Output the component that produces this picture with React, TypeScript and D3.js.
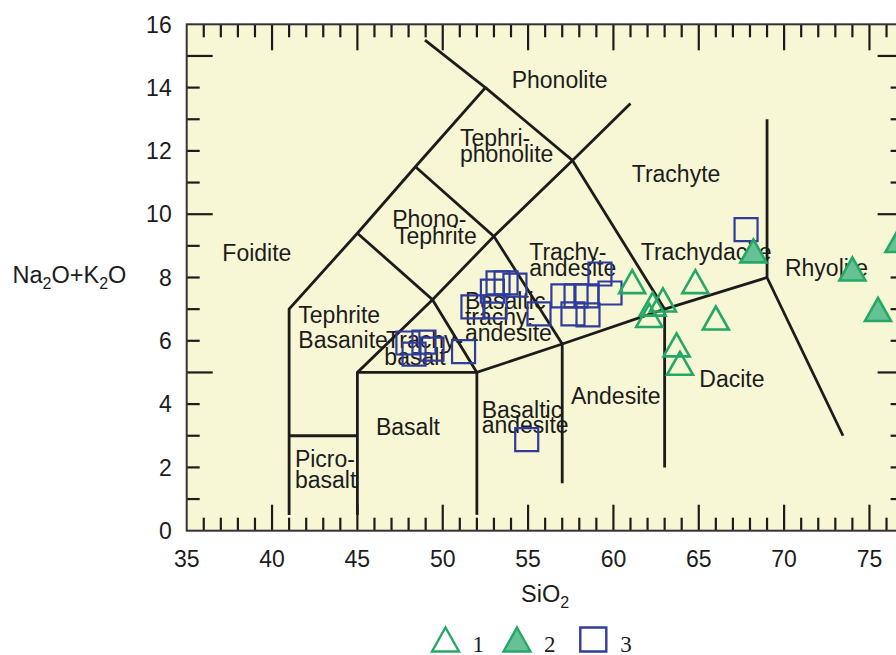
import React, { useRef, useEffect } from "react";
import * as d3 from "d3";

// series 1: open triangles
const s1Si = [61.1, 64.8, 66.0, 62.3, 62.9, 62.1, 63.7, 63.9];
const s1Alk = [7.87, 7.87, 6.72, 7.16, 7.29, 6.8, 5.87, 5.29];
// series 2: filled triangles
const s2Si = [68.2, 74.0, 75.5, 76.7];
const s2Alk = [8.84, 8.27, 6.99, 9.17];
// series 3: squares
const s3Si = [47.96, 48.9, 48.32, 49.37, 51.22, 51.77, 53.06, 52.91, 53.24, 53.71, 54.23, 57.04, 57.81, 58.45, 59.21, 59.8, 55.64, 57.63, 58.51, 54.92, 67.77];
const s3Alk = [5.93, 5.96, 5.58, 5.74, 5.66, 7.07, 7.07, 7.57, 7.83, 7.83, 7.76, 7.42, 7.42, 7.42, 8.11, 7.51, 6.85, 6.85, 6.82, 2.88, 9.51];

const yTickLabels = [0, 2, 4, 6, 8, 10, 12, 14, 16];
const xTickLabels = [35, 40, 45, 50, 55, 60, 65, 70, 75];
const legendLabels = ["1", "2", "3"];

// TAS field boundaries (SiO2, Na2O+K2O)
const boundaries: number[][][] = [
  [[41, 0.5], [41, 7], [45, 9.4], [48.4, 11.5], [52.5, 14], [48.96, 15.5]],
  [[41, 3], [45, 3]],
  [[45, 0.5], [45, 5], [49.4, 7.3], [53, 9.3], [57.6, 11.7], [61, 13.5]],
  [[45, 5], [52, 5], [57, 5.9], [63, 7], [69, 8]],
  [[52, 0.5], [52, 5]],
  [[45, 9.4], [49.4, 7.3], [52, 5]],
  [[48.4, 11.5], [53, 9.3], [57, 5.9], [57, 1.5]],
  [[52.5, 14], [57.6, 11.7], [63, 7], [63, 2]],
  [[69, 13], [69, 8], [73.45, 3]],
];

const fieldNames = ["Phonolite", "Tephri-", "phonolite", "Trachyte", "Phono-", "Tephrite", "Foidite", "Tephrite", "Basanite", "Trachy-", "basalt", "Basaltic", "trachy-", "andesite", "Trachy-", "andesite", "Trachydacite", "Rhyolite", "Dacite", "Andesite", "Basaltic", "andesite", "Basalt", "Picro-", "basalt"];
const fieldSi = [54.04, 51.01, 51.01, 61.07, 47.04, 47.2, 37.09, 41.54, 41.54, 46.68, 46.58, 51.3, 51.3, 51.3, 55.07, 55.07, 61.6, 70.05, 65.03, 57.51, 52.28, 52.28, 46.09, 41.34, 41.34];
const fieldAlk = [14.0, 12.17, 11.66, 11.03, 9.6, 9.06, 8.53, 6.55, 5.78, 5.77, 5.24, 7.0, 6.5, 5.99, 8.55, 8.05, 8.55, 8.05, 4.55, 4.0, 3.56, 3.08, 3.02, 2.0, 1.34];

const green = "#24A865";
const greenFill = "#66C194";
const blue = "#2F3C9C";
const ink = "#1c1c1c";
const font = "'Liberation Sans', Arial, sans-serif";

const App = () => {
  const svgRef = useRef<SVGSVGElement>(null);

  useEffect(() => {
    const svg = d3.select(svgRef.current);
    svg.selectAll("*").remove();

    const left = 186.7, right = 903.6, top = 24.3, bottom = 530.7;
    const x = d3.scaleLinear().domain([35, 77]).range([left, right]);
    const y = d3.scaleLinear().domain([0, 16]).range([bottom, top]);

    // plot background
    svg.append("rect")
      .attr("x", left).attr("y", top)
      .attr("width", right - left).attr("height", bottom - top)
      .attr("fill", "#F7F7D6");

    // ticks on all four sides, pointing inward
    const xs = d3.range(36, 77);
    const ys = d3.range(1, 16);
    const ticks = svg.append("g").attr("stroke", ink).attr("stroke-width", 2.2);
    xs.forEach((v) => {
      const len = v % 5 === 0 ? 26 : 13;
      ticks.append("line").attr("x1", x(v)).attr("x2", x(v)).attr("y1", bottom).attr("y2", bottom - len);
      ticks.append("line").attr("x1", x(v)).attr("x2", x(v)).attr("y1", top).attr("y2", top + len);
    });
    ys.forEach((v) => {
      const len = v % 5 === 0 ? 26 : 13;
      ticks.append("line").attr("x1", left).attr("x2", left + len).attr("y1", y(v)).attr("y2", y(v));
      ticks.append("line").attr("x1", right).attr("x2", right - len).attr("y1", y(v)).attr("y2", y(v));
    });

    // frame
    svg.append("rect")
      .attr("x", left).attr("y", top)
      .attr("width", right - left).attr("height", bottom - top)
      .attr("fill", "none").attr("stroke", "#333").attr("stroke-width", 2);

    // tick labels
    svg.append("g").selectAll("text").data(yTickLabels).join("text")
      .attr("x", left - 15).attr("y", (d) => y(d)).attr("dy", "0.36em")
      .attr("text-anchor", "end").attr("font-family", font).attr("font-size", 23)
      .attr("fill", ink).text((d) => d);
    svg.append("g").selectAll("text").data(xTickLabels).join("text")
      .attr("x", (d) => x(d)).attr("y", bottom + 36.5)
      .attr("text-anchor", "middle").attr("font-family", font).attr("font-size", 23)
      .attr("fill", ink).text((d) => d);

    // axis titles
    const xt = svg.append("text").attr("x", x(56)).attr("y", 601.7)
      .attr("text-anchor", "middle").attr("font-family", font).attr("font-size", 23.5).attr("fill", ink);
    xt.append("tspan").text("SiO");
    xt.append("tspan").attr("font-size", 16).attr("dy", 6).text("2");

    const yt = svg.append("text").attr("x", 12.5).attr("y", 283.3)
      .attr("font-family", font).attr("font-size", 23.5).attr("fill", ink);
    yt.append("tspan").text("Na");
    yt.append("tspan").attr("font-size", 16).attr("dy", 6).text("2");
    yt.append("tspan").attr("dy", -6).text("O+K");
    yt.append("tspan").attr("font-size", 16).attr("dy", 6).text("2");
    yt.append("tspan").attr("dy", -6).text("O");

    // field boundaries
    const line = d3.line<number[]>().x((d) => x(d[0])).y((d) => y(d[1]));
    svg.append("g").selectAll("path").data(boundaries).join("path")
      .attr("d", line).attr("fill", "none").attr("stroke", ink)
      .attr("stroke-width", 2.8).attr("stroke-linejoin", "miter");

    // field names
    svg.append("g").selectAll("text").data(fieldNames).join("text")
      .attr("x", (_, i) => x(fieldSi[i])).attr("y", (_, i) => y(fieldAlk[i]))
      .attr("font-family", font).attr("font-size", 23).attr("fill", ink)
      .text((d) => d);

    const tri = "M0,-11.5L13,11.5L-13,11.5Z";
    const sq = "M-11.5,-11.5H11.5V11.5H-11.5Z";

    svg.append("g").selectAll("path").data(s3Si).join("path")
      .attr("transform", (d, i) => `translate(${x(d)},${y(s3Alk[i])})`)
      .attr("d", sq).attr("fill", "none").attr("stroke", blue).attr("stroke-width", 2.2);

    svg.append("g").selectAll("path").data(s1Si).join("path")
      .attr("transform", (d, i) => `translate(${x(d)},${y(s1Alk[i])})`)
      .attr("d", tri).attr("fill", "none").attr("stroke", green).attr("stroke-width", 2.6);

    svg.append("g").selectAll("path").data(s2Si).join("path")
      .attr("transform", (d, i) => `translate(${x(d)},${y(s2Alk[i])})`)
      .attr("d", tri).attr("fill", greenFill).attr("stroke", green).attr("stroke-width", 2.6);

    // legend
    const lg = svg.append("g").attr("transform", "translate(0,639.5)");
    const markers = [
      { d: "M0,-12L13.5,12L-13.5,12Z", fill: "none", stroke: green },
      { d: "M0,-12L13.5,12L-13.5,12Z", fill: greenFill, stroke: green },
      { d: "M-13,-12H13V12H-13Z", fill: "none", stroke: blue },
    ];
    const lx = [445.5, 517, 593.3];
    legendLabels.forEach((t, i) => {
      lg.append("path").attr("transform", `translate(${lx[i]},0)`)
        .attr("d", markers[i].d).attr("fill", markers[i].fill)
        .attr("stroke", markers[i].stroke).attr("stroke-width", 2.4);
      lg.append("text").attr("x", lx[i] + 27).attr("y", 12)
        .attr("font-family", "'Liberation Serif', 'Times New Roman', serif")
        .attr("font-size", 23).attr("fill", ink).text(t);
    });
  }, []);

  return (
    <svg
      ref={svgRef}
      width={896}
      height={655}
      style={{ position: "absolute", left: 0, top: 0, background: "#fff", overflow: "hidden" }}
    ></svg>
  );
};

export default App;
